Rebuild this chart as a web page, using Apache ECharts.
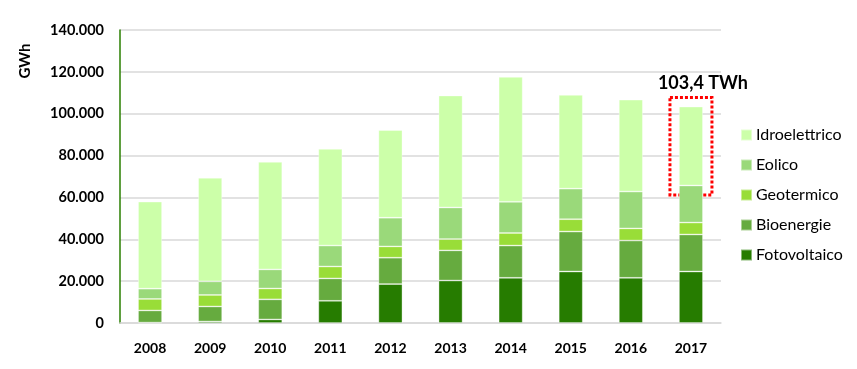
<!DOCTYPE html>
<html><head><meta charset="utf-8">
<script src="https://cdn.jsdelivr.net/npm/echarts@6/dist/echarts.min.js"></script>
<style>html,body{margin:0;padding:0;background:#fff}#c{width:857px;height:369px}</style>
</head><body><div id="c"></div>
<script>
const years = ['2008','2009','2010','2011','2012','2013','2014','2015','2016','2017'];
const fotovoltaico = [200, 700, 1700, 10600, 18600, 20300, 21600, 24600, 21600, 24600];
const bioenergie   = [5800, 7200, 9600, 10700, 12600, 14400, 15400, 19100, 17800, 17700];
const geotermico   = [5500, 5500, 5200, 5700, 5400, 5400, 6000, 5900, 5800, 5700];
const eolico       = [4900, 6500, 9100, 10000, 13700, 15100, 14900, 14600, 17600, 17700];
const idroelettrico= [41600, 49500, 51400, 46200, 41900, 53500, 59700, 44800, 43900, 37700];
const yTicks = [0, 20000, 40000, 60000, 80000, 100000, 120000, 140000];
const annotationText = '103,4 TWh';
const boxYear = '2017';
const boxRange = [61200, 107700];

const font = 'Lato, sans-serif';
const fmt = v => String(v).replace(/\B(?=(\d{3})+(?!\d))/g, '.');
const chart = echarts.init(document.getElementById('c'));
const mk = (name, data, color) => ({
  name, type: 'bar', stack: 'tot', data, barWidth: 24,
  itemStyle: { color, borderColor: 'rgba(255,255,255,0.45)', borderWidth: 0.8 },
  emphasis: { disabled: true }
});
chart.setOption({
  animation: false,
  textStyle: { fontFamily: font },
  grid: { left: 120, right: 136, top: 30, bottom: 46, containLabel: false, outerBoundsMode: 'none' },
  xAxis: {
    type: 'category', data: years,
    axisLine: { lineStyle: { color: '#d9d9d9', width: 1.5 } },
    axisTick: { show: false },
    axisLabel: { color: '#000', fontSize: 14, fontWeight: 'bold', margin: 18, fontFamily: font }
  },
  yAxis: {
    type: 'value', min: yTicks[0], max: yTicks[yTicks.length - 1], interval: 20000,
    axisLine: { show: true, lineStyle: { color: '#2a7f00', width: 1.5 } },
    axisTick: { show: false },
    splitLine: { lineStyle: { color: '#d9d9d9', width: 1.5 } },
    axisLabel: { color: '#000', fontSize: 14.5, fontWeight: 'bold', margin: 16, formatter: fmt, fontFamily: font }
  },
  legend: {
    orient: 'vertical', left: 735, top: 122, itemWidth: 11, itemHeight: 11, itemGap: 14,
    icon: 'rect',
    data: ['Idroelettrico', 'Eolico', 'Geotermico', 'Bioenergie', 'Fotovoltaico'],
    textStyle: { color: '#000', fontSize: 16, fontFamily: font, padding: [0, 0, 0, -1] }
  },
  series: [
    mk('Fotovoltaico', fotovoltaico, '#267c00'),
    mk('Bioenergie', bioenergie, '#66ab3f'),
    mk('Geotermico', geotermico, '#99dd38'),
    mk('Eolico', eolico, '#9ad97a'),
    mk('Idroelettrico', idroelettrico, '#ccffa9')
  ]
});
const pTop = chart.convertToPixel({ gridIndex: 0 }, [boxYear, boxRange[1]]);
const pBot = chart.convertToPixel({ gridIndex: 0 }, [boxYear, boxRange[0]]);
const bw = 42;
chart.setOption({
  graphic: [
    { type: 'text', x: 25, y: 61, rotation: Math.PI / 2, style: { text: 'GWh', fill: '#000', font: 'bold 15px ' + font, textAlign: 'center', textVerticalAlign: 'middle' } },
    { type: 'rect', shape: { x: pTop[0] - bw / 2, y: pTop[1], width: bw, height: pBot[1] - pTop[1] },
      style: { fill: 'none', stroke: '#ff0000', lineWidth: 3, lineDash: [3, 2] } },
    { type: 'text', x: pTop[0] + 12, y: pTop[1] - 5, style: { text: annotationText, fill: '#000', font: 'bold 18px ' + font, textAlign: 'center', textVerticalAlign: 'bottom' } }
  ]
});
</script></body></html>
